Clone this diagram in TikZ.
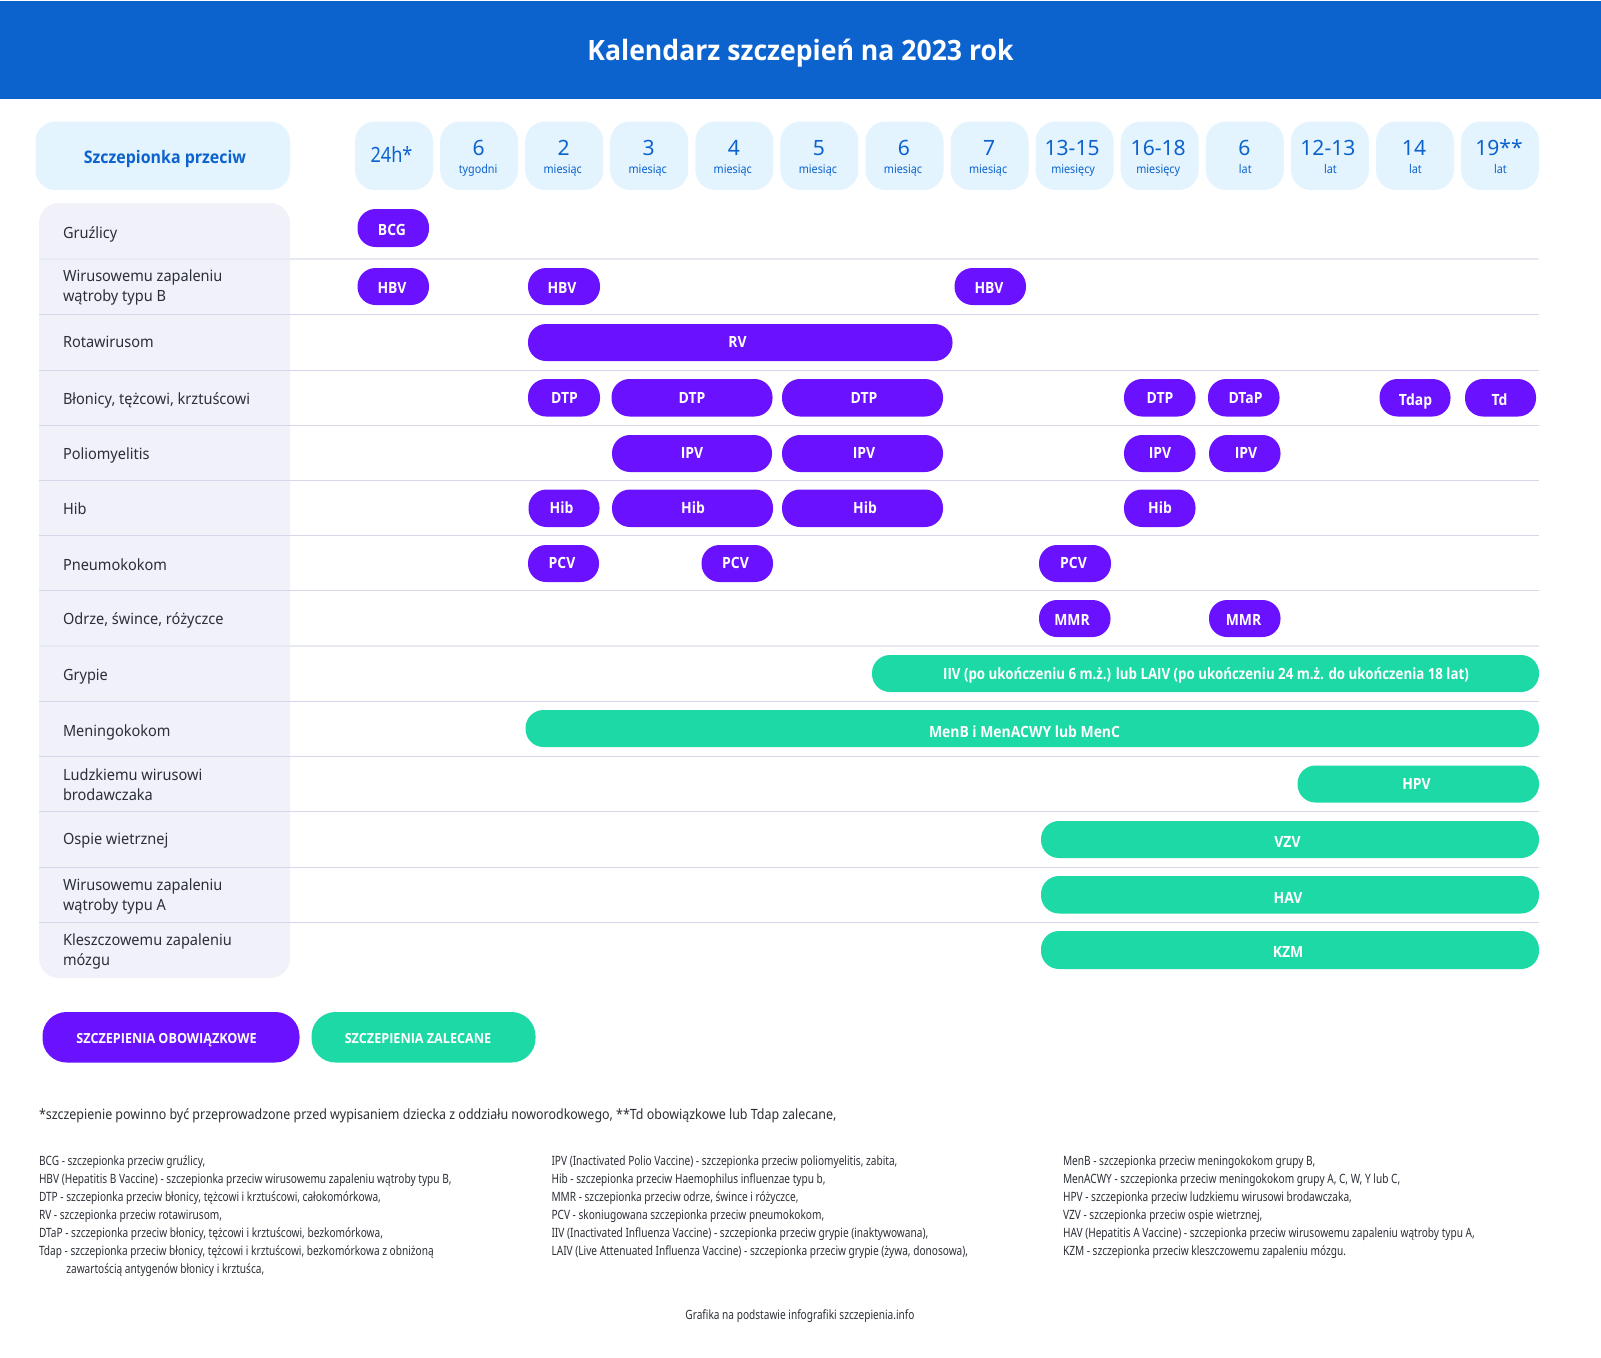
\documentclass[tikz,border=0pt]{standalone}
\usepackage{fontspec}
\setmainfont{Noto Sans}
\newfontfamily\fRow[FakeStretch=0.94]{Noto Sans}
\newfontfamily\fNum[FakeStretch=1.0]{Noto Sans}
\newfontfamily\fH[FakeStretch=0.86]{Noto Sans}
\newfontfamily\fSub[FakeStretch=0.9]{Noto Sans}
\newfontfamily\fNote[FakeStretch=0.88]{Noto Sans}
\newfontfamily\fC[FakeStretch=0.79]{Noto Sans}
\newfontfamily\fB[FakeStretch=0.9]{Open Sans}
\newfontfamily\fBT[FakeStretch=0.95]{Open Sans}
\newfontfamily\fBH[FakeStretch=0.92]{Open Sans}
\newfontfamily\fBN[FakeStretch=0.86]{Open Sans}
\newfontfamily\fBL[FakeStretch=0.91]{Open Sans}
\definecolor{hdr}{HTML}{0D63CE}
\definecolor{cell}{HTML}{E3F4FE}
\definecolor{panel}{HTML}{F1F1F9}
\definecolor{pur}{HTML}{6A11FF}
\definecolor{grn}{HTML}{1DD9A6}
\definecolor{ink}{HTML}{2B2F36}
\definecolor{sepA}{HTML}{E7EAF3}
\definecolor{sepB}{HTML}{D4D8EA}
\tikzset{
  x=0.75pt,y=-0.75pt,
  txt/.style={anchor=base,inner sep=0pt,outer sep=0pt},
  pilltxt/.style={txt,text=white,font=\fB\bfseries\fontsize{11.6}{14}\selectfont},
  numtxt/.style={txt,text=hdr,font=\fNum\fontsize{15.8}{18}\selectfont},
  subtxt/.style={txt,text=hdr,font=\fSub\fontsize{9}{11}\selectfont},
  rowtxt/.style={txt,anchor=base west,text=ink,font=\fRow\fontsize{11.6}{15}\selectfont},
  smalltxt/.style={txt,anchor=base west,text=ink,font=\fC\fontsize{9.6}{13.5}\selectfont},
  sepline/.style={draw=sepB,line width=0.75pt},
  septhick/.style={draw=sepA,line width=1.5pt},
  cellbox/.style={fill=cell,rounded corners=15pt},
}
\newcommand{\pill}[9]{% name colour x1 y1 x2 y2 tx baseline text
  \path[fill=#2,rounded corners=13.5pt] (#3,#4) rectangle (#5,#6);
  \node[pilltxt] (#1) at (#7,#8) {#9};}
\newcommand{\agecell}[6]{% name, x-left, number, sub, number offset, sub offset
  \path[cellbox] (#2,121.5) rectangle ++(78,68.5);
  \node[numtxt] (num#1) at (#2+#5,155) {#3};
  \node[subtxt] (sub#1) at (#2+#6,173) {#4};}
\begin{document}
\begin{tikzpicture}
\useasboundingbox (0,0) rectangle (1601,1357);
\path[fill=white] (0,0) rectangle (1601,1357);
\path[fill=hdr] (0,1) rectangle (1601,99);
\node[txt,text=white,font=\fBT\bfseries\fontsize{21}{25}\selectfont] (title) at (800.5,60) {Kalendarz szczepień na 2023 rok};
% header row
\path[cellbox] (35.5,121.5) rectangle (290,190);
\node[txt,text=hdr,font=\fBH\bfseries\fontsize{13}{16}\selectfont] (headA) at (165,163) {Szczepionka przeciw};
\path[cellbox] (355,121.5) rectangle ++(78,68.5);
\node[numtxt,font=\fH\fontsize{15.8}{18}\selectfont] (num0) at (391.5,162) {24h*};
\agecell{a}{440.1}{6}{tygodni}{38.5}{38}
\agecell{b}{525.2}{2}{miesiąc}{38.5}{37.5}
\agecell{c}{610.2}{3}{miesiąc}{38.5}{37.5}
\agecell{d}{695.3}{4}{miesiąc}{38.5}{37.5}
\agecell{e}{780.4}{5}{miesiąc}{38.5}{37.5}
\agecell{f}{865.5}{6}{miesiąc}{38.5}{37.5}
\agecell{g}{950.6}{7}{miesiąc}{38.5}{37.5}
\agecell{h}{1035.6}{13-15}{miesięcy}{36.5}{37.5}
\agecell{i}{1120.7}{16-18}{miesięcy}{37.5}{37.5}
\agecell{j}{1205.8}{6}{lat}{38.5}{39.5}
\agecell{k}{1290.9}{12-13}{lat}{37}{39.5}
\agecell{l}{1376}{14}{lat}{38}{39.5}
\agecell{m}{1461}{19**}{lat}{38}{39.5}
% left panel
\path[fill=panel,rounded corners=15pt] (39,203) rectangle (290,978);
\draw[septhick] (39,258.5) -- (1539,258.5);
\draw[septhick] (39,645.7) -- (1539,645.7);
\foreach \yy in {314,370,425,480,535,590,701.3,756.3,811.3,867.3,922.3}
  \draw[sepline] (39,\yy) -- (1539,\yy);
% row labels
\node[rowtxt] (r1) at (63,238) {Gruźlicy};
\node[rowtxt] (r2) at (63,281.7) {\vtop{\hbox{Wirusowemu zapaleniu}\hbox{wątroby typu B}}};
\node[rowtxt] (r3) at (63,347.7) {Rotawirusom};
\node[rowtxt] (r4) at (63,404.3) {Błonicy, tężcowi, krztuścowi};
\node[rowtxt] (r5) at (63,459) {Poliomyelitis};
\node[rowtxt] (r6) at (63,514) {Hib};
\node[rowtxt] (r7) at (63,570) {Pneumokokom};
\node[rowtxt] (r8) at (63,624) {Odrze, śwince, różyczce};
\node[rowtxt] (r9) at (63,680.5) {Grypie};
\node[rowtxt] (r10) at (63,736.5) {Meningokokom};
\node[rowtxt] (r11) at (63,780.5) {\vtop{\hbox{Ludzkiemu wirusowi}\hbox{brodawczaka}}};
\node[rowtxt] (r12) at (63,844.5) {Ospie wietrznej};
\node[rowtxt] (r13) at (63,890.5) {\vtop{\hbox{Wirusowemu zapaleniu}\hbox{wątroby typu A}}};
\node[rowtxt] (r14) at (63,945) {\vtop{\hbox{Kleszczowemu zapaleniu}\hbox{mózgu}}};
% pills
\pill{bcg}{pur}{357.5}{209}{429}{247}{392}{235}{BCG}
\pill{hbvA}{pur}{357.5}{268}{429}{305}{392}{293.5}{HBV}
\pill{hbvB}{pur}{528}{268}{600}{305}{562}{293.5}{HBV}
\pill{hbvC}{pur}{954.5}{268}{1026}{305}{989}{293.5}{HBV}
\pill{rv}{pur}{528}{324}{952.5}{361}{737.5}{347.5}{RV}
\pill{dtpA}{pur}{528}{379}{600}{416.5}{564.5}{403.5}{DTP}
\pill{dtpB}{pur}{611.5}{379}{772.5}{416.5}{692}{403.5}{DTP}
\pill{dtpC}{pur}{782}{379}{943}{416.5}{864}{403.5}{DTP}
\pill{dtpD}{pur}{1124}{379}{1195.5}{416.5}{1160}{403.5}{DTP}
\pill{dtapA}{pur}{1208}{379}{1279.5}{416.5}{1245.5}{403.5}{DTaP}
\pill{tdap}{pur}{1379.5}{379}{1450.5}{416.5}{1415.5}{405}{Tdap}
\pill{td}{pur}{1465}{379}{1536}{416.5}{1499.5}{405}{Td}
\pill{ipvA}{pur}{612}{435}{772}{472}{692}{458.5}{IPV}
\pill{ipvB}{pur}{782}{435}{943}{472}{864}{458.5}{IPV}
\pill{ipvC}{pur}{1124}{435}{1195.5}{472}{1160}{458.5}{IPV}
\pill{ipvD}{pur}{1209}{435}{1280.5}{472}{1246}{458.5}{IPV}
\pill{hibA}{pur}{528.5}{489.5}{599.5}{527}{561.5}{513}{Hib}
\pill{hibB}{pur}{612}{489.5}{773}{527}{693}{513}{Hib}
\pill{hibC}{pur}{782}{489.5}{943}{527}{865}{513}{Hib}
\pill{hibD}{pur}{1124}{489.5}{1195.5}{527}{1160}{513}{Hib}
\pill{pcvA}{pur}{528}{545}{599}{582}{562}{568}{PCV}
\pill{pcvB}{pur}{701.5}{545}{773}{582}{735.5}{568}{PCV}
\pill{pcvC}{pur}{1039}{545}{1111}{582}{1073.5}{568}{PCV}
\pill{mmrA}{pur}{1039}{600}{1110.5}{637}{1072}{625.5}{MMR}
\pill{mmrB}{pur}{1209}{600}{1280.5}{637}{1243.5}{625.5}{MMR}
\path[fill=grn,rounded corners=13.5pt] (872,655) rectangle (1539,692);
\node[pilltxt,font=\fBN\bfseries\fontsize{11.6}{14}\selectfont] (iiv) at (1206,679.5) {IIV (po ukończeniu 6 m.ż.) lub LAIV (po ukończeniu 24 m.ż. do ukończenia 18 lat)};
\pill{menb}{grn}{525.5}{710}{1539}{747}{1024.5}{737.5}{MenB i MenACWY lub MenC}
\pill{hpv}{grn}{1297.5}{765.5}{1539}{802.5}{1416.5}{789.5}{HPV}
\pill{vzv}{grn}{1041}{821}{1539}{858}{1287.5}{847.5}{VZV}
\pill{hav}{grn}{1041}{876}{1539}{913.5}{1288}{903}{HAV}
\pill{kzm}{grn}{1041}{931}{1539}{969}{1288}{957}{KZM}
% legend
\path[fill=pur,rounded corners=18pt] (42.5,1012) rectangle (299.5,1062.5);
\node[txt,text=white,font=\fBL\bfseries\fontsize{10.4}{13}\selectfont] (legA) at (166.5,1043) {SZCZEPIENIA OBOWIĄZKOWE};
\path[fill=grn,rounded corners=18pt] (311.5,1012) rectangle (535.5,1062.5);
\node[txt,text=white,font=\fBL\bfseries\fontsize{10.4}{13}\selectfont] (legB) at (418,1043) {SZCZEPIENIA ZALECANE};
% notes
\node[txt,anchor=base west,text=ink,font=\fNote\fontsize{10.6}{13}\selectfont] (note) at (39,1119) {*szczepienie powinno być przeprowadzone przed wypisaniem dziecka z oddziału noworodkowego, **Td obowiązkowe lub Tdap zalecane,};
\node[smalltxt] (c1) at (39,1165) {\vtop{\hbox{BCG - szczepionka przeciw gruźlicy,}
\hbox{HBV (Hepatitis B Vaccine) - szczepionka przeciw wirusowemu zapaleniu wątroby typu B,}
\hbox{DTP - szczepionka przeciw błonicy, tężcowi i krztuścowi, całokomórkowa,}
\hbox{RV - szczepionka przeciw rotawirusom,}
\hbox{DTaP - szczepionka przeciw błonicy, tężcowi i krztuścowi, bezkomórkowa,}
\hbox{Tdap - szczepionka przeciw błonicy, tężcowi i krztuścowi, bezkomórkowa z obniżoną}
\hbox{\hspace{20.5pt}zawartością antygenów błonicy i krztuśca,}}};
\node[smalltxt] (c2) at (551.5,1165) {\vtop{\hbox{IPV (Inactivated Polio Vaccine) - szczepionka przeciw poliomyelitis, zabita,}
\hbox{Hib - szczepionka przeciw Haemophilus influenzae typu b,}
\hbox{MMR - szczepionka przeciw odrze, śwince i różyczce,}
\hbox{PCV - skoniugowana szczepionka przeciw pneumokokom,}
\hbox{IIV (Inactivated Influenza Vaccine) - szczepionka przeciw grypie (inaktywowana),}
\hbox{LAIV (Live Attenuated Influenza Vaccine) - szczepionka przeciw grypie (żywa, donosowa),}}};
\node[smalltxt] (c3) at (1063,1165) {\vtop{\hbox{MenB - szczepionka przeciw meningokokom grupy B,}
\hbox{MenACWY - szczepionka przeciw meningokokom grupy A, C, W, Y lub C,}
\hbox{HPV - szczepionka przeciw ludzkiemu wirusowi brodawczaka,}
\hbox{VZV - szczepionka przeciw ospie wietrznej,}
\hbox{HAV (Hepatitis A Vaccine) - szczepionka przeciw wirusowemu zapaleniu wątroby typu A,}
\hbox{KZM - szczepionka przeciw kleszczowemu zapaleniu mózgu.}}};
\node[smalltxt,anchor=base] (src) at (800,1319) {Grafika na podstawie infografiki szczepienia.info};
\end{tikzpicture}
\end{document}
